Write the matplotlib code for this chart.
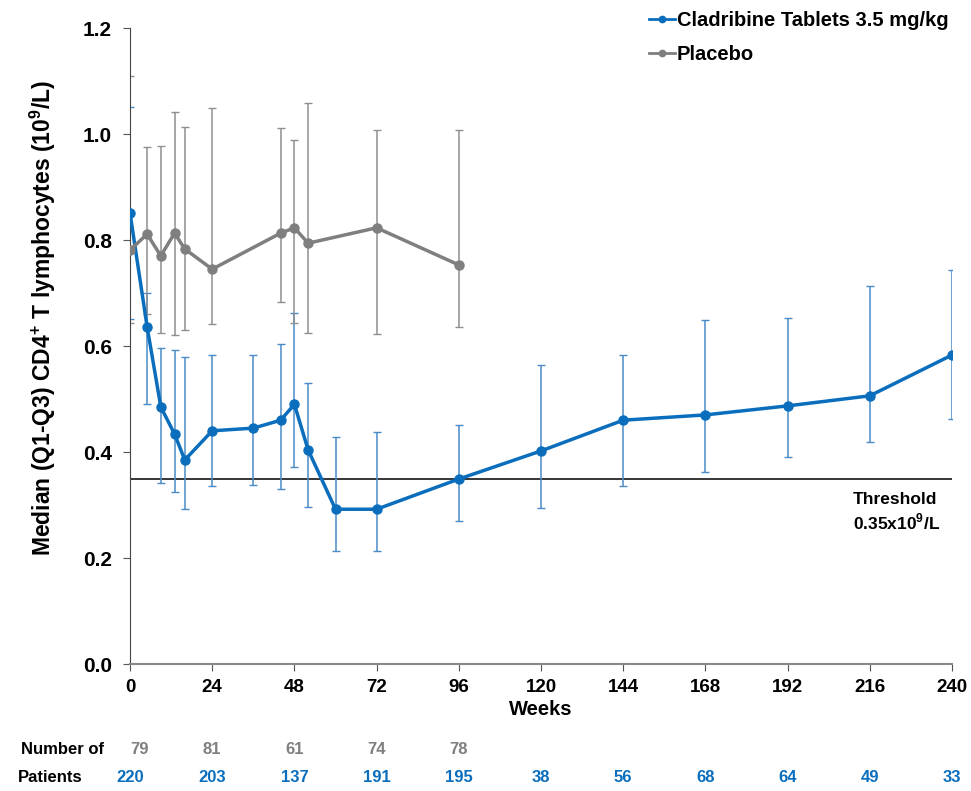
import matplotlib
matplotlib.use("Agg")
from matplotlib import pyplot as plt
from matplotlib import transforms

plt.rcParams['font.family'] = ['Liberation Sans', 'DejaVu Sans']
plt.rcParams['font.weight'] = 'bold'
plt.rcParams['mathtext.fontset'] = 'custom'
plt.rcParams['mathtext.rm'] = 'Liberation Sans:bold'
plt.rcParams['mathtext.bf'] = 'Liberation Sans:bold'

# Cladribine Tablets 3.5 mg/kg
clad_weeks = [0, 5, 9, 13, 16, 24, 36, 44, 48, 52, 60, 72, 96, 120, 144, 168, 192, 216, 240]
clad_med = [0.851, 0.636, 0.485, 0.434, 0.385, 0.440, 0.445, 0.460, 0.490, 0.404,
            0.292, 0.292, 0.349, 0.402, 0.460, 0.470, 0.487, 0.506, 0.583]
clad_q1 = [0.651, 0.490, 0.342, 0.325, 0.292, 0.336, 0.338, 0.330, 0.372, 0.296,
           0.213, 0.213, 0.270, 0.294, 0.336, 0.362, 0.390, 0.419, 0.462]
clad_q3 = [1.051, 0.700, 0.596, 0.592, 0.579, 0.583, 0.583, 0.604, 0.662, 0.530,
           0.428, 0.438, 0.451, 0.564, 0.583, 0.649, 0.653, 0.713, 0.743]

# Placebo
plac_weeks = [0, 5, 9, 13, 16, 24, 44, 48, 52, 72, 96]
plac_med = [0.781, 0.811, 0.770, 0.813, 0.783, 0.745, 0.813, 0.823, 0.794, 0.823, 0.753]
plac_q1 = [0.643, 0.660, 0.625, 0.620, 0.630, 0.642, 0.683, 0.643, 0.624, 0.623, 0.636]
plac_q3 = [1.109, 0.975, 0.977, 1.042, 1.013, 1.049, 1.011, 0.989, 1.058, 1.007, 1.007]

threshold = 0.35

# number of patients table
plac_n_weeks = [0, 24, 48, 72, 96]
plac_n = [79, 81, 61, 74, 78]
clad_n_weeks = [0, 24, 48, 72, 96, 120, 144, 168, 192, 216, 240]
clad_n = [220, 203, 137, 191, 195, 38, 56, 68, 64, 49, 33]

blue = '#0a6ebd'
blue_err = '#4a8cc8'
grey = '#7f7f7f'
grey_err = '#8f8f8f'

fig = plt.figure(figsize=(9.71, 7.91), dpi=100)
ax = fig.add_axes([130 / 971, 127 / 791, 822 / 971, 636 / 791])

ax.axhline(threshold, color='black', lw=1.1, zorder=1)

ax.errorbar(clad_weeks, clad_med,
            yerr=[[m - l for m, l in zip(clad_med, clad_q1)],
                  [h - m for m, h in zip(clad_med, clad_q3)]],
            fmt='none', ecolor=blue_err, elinewidth=1.1, capsize=3, capthick=1, zorder=2)
ax.errorbar(plac_weeks, plac_med,
            yerr=[[m - l for m, l in zip(plac_med, plac_q1)],
                  [h - m for m, h in zip(plac_med, plac_q3)]],
            fmt='none', ecolor=grey_err, elinewidth=1.1, capsize=3, capthick=1, zorder=2)

ax.plot(clad_weeks, clad_med, '-o', color=blue, lw=2.5, ms=6.5, zorder=3,
        label='Cladribine Tablets 3.5 mg/kg')
ax.plot(plac_weeks, plac_med, '-o', color=grey, lw=2.5, ms=6.5, zorder=4,
        label='Placebo')

ax.set_xlim(0, 240)
ax.set_ylim(0, 1.2)
ax.set_xticks(range(0, 241, 24))
ax.set_yticks([0, 0.2, 0.4, 0.6, 0.8, 1.0, 1.2])
ax.set_yticklabels(['0.0', '0.2', '0.4', '0.6', '0.8', '1.0', '1.2'])
ax.tick_params(axis='y', labelsize=15, length=5, color='#555555', pad=8)
ax.tick_params(axis='x', labelsize=13.5, length=5, color='#555555', pad=6)
for s in ['top', 'right']:
    ax.spines[s].set_visible(False)
ax.spines['left'].set_color('#444444')
ax.spines['bottom'].set_color('#888888')
ax.spines['bottom'].set_linewidth(1.5)

ax.set_xlabel('Weeks', fontsize=14.5, fontweight='bold', labelpad=3)
ax.set_ylabel(r'Median (Q1-Q3) CD4$^{+}$ T lymphocytes (10$^{9}$/L)',
              fontsize=16.5, fontweight='bold')
ax.yaxis.set_label_coords(-0.088, 0.544)

ax.text(211, 0.325, 'Threshold\n' + r'0.35x10$^{9}$/L', fontsize=12.5, fontweight='bold',
        ha='left', va='top', linespacing=1.3)

leg = ax.legend(loc='upper right', bbox_to_anchor=(1.018, 1.055), frameon=False,
                fontsize=14.5, handlelength=1.3, handletextpad=0.1, labelspacing=0.75,
                markerscale=0.7)
for line in leg.get_lines():
    line.set_linewidth(2)

trans = transforms.blended_transform_factory(ax.transData, fig.transFigure)
fig.text(104 / 971, 1 - 750 / 791, 'Number of', fontsize=12, fontweight='bold',
         ha='right', va='center')
fig.text(50 / 971, 1 - 778 / 791, 'Patients', fontsize=12, fontweight='bold',
         ha='center', va='center')
for w, n in zip(plac_n_weeks, plac_n):
    ax.text(w, 1 - 750 / 791, str(n), transform=trans, color=grey, fontsize=12,
            fontweight='bold', ha='left' if w == 0 else 'center', va='center',
            clip_on=False)
for w, n in zip(clad_n_weeks, clad_n):
    ax.text(w, 1 - 778 / 791, str(n), transform=trans, color=blue, fontsize=12,
            fontweight='bold', ha='center', va='center', clip_on=False)

fig.savefig('out.png', dpi=100)
